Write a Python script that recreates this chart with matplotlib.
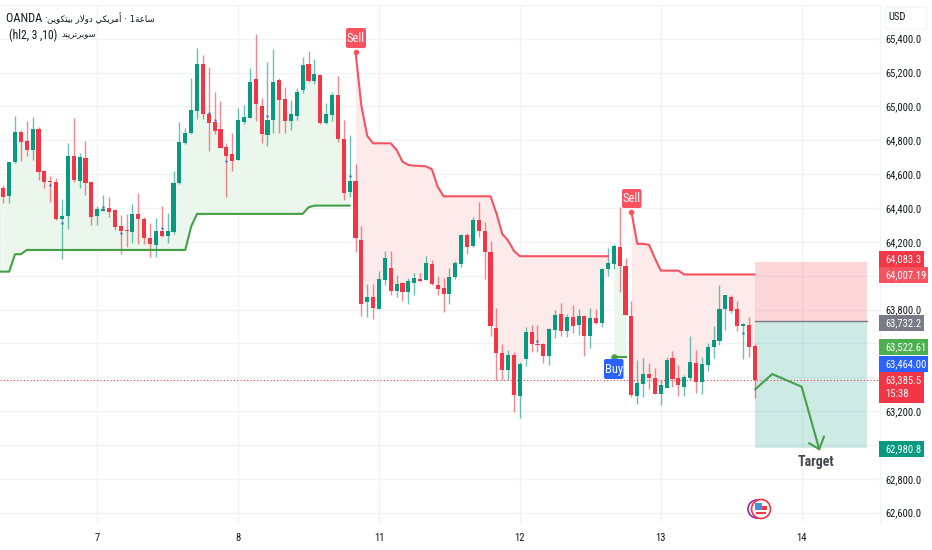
import numpy as np
import matplotlib
matplotlib.use("Agg")
import matplotlib.pyplot as plt
from matplotlib.patches import Circle, Rectangle, FancyBboxPatch

# hourly candles
opens = [64520, 64471, 64670, 64851, 64796, 64743, 64869, 64619, 64560, 64556,
         64337, 64353, 64708, 64562, 64696, 64556, 64353, 64385, 64400, 64388,
         64294, 64270, 64259, 64365, 64335, 64225, 64184, 64264, 64237, 64257,
         64546, 64782, 64841, 64973, 65251, 64956, 64910, 64867, 64759, 64719,
         64684, 64908, 64934, 65164, 65003, 64830, 64920, 65156, 65044, 64916,
         64946, 65097, 65251, 65148, 65186, 64904, 64950, 65068, 64806, 64493,
         64560, 64208, 63843, 63877, 63804, 63975, 64046, 63912, 63958, 63906,
         63956, 63983, 63975, 64070, 63942, 63928, 63889, 63993, 64070, 64243,
         64176, 64330, 64261, 64137, 63692, 63546, 63440, 63534, 63290, 63507,
         63668, 63599, 63597, 63524, 63682, 63773, 63676, 63757, 63706, 63763,
         63646, 63751, 63723, 64040, 64070, 64172, 64056, 63761, 63290, 63361,
         63418, 63394, 63302, 63337, 63511, 63394, 63345, 63394, 63485, 63369,
         63473, 63581, 63617, 63802, 63877, 63802, 63704, 63708, 63587]
highs = [64536, 64674, 64944, 64861, 64914, 64936, 64881, 64625, 64589, 64576,
         64455, 64786, 64932, 64723, 64794, 64560, 64414, 64479, 64463, 64392,
         64359, 64365, 64424, 64487, 64349, 64310, 64339, 64412, 64369, 64619,
         64908, 64871, 65168, 65344, 65304, 65231, 65088, 65032, 64786, 64841,
         64989, 65009, 65225, 65428, 65052, 65261, 65338, 65166, 65113, 65038,
         65107, 65290, 65328, 65278, 65190, 65019, 65084, 65180, 64920, 64832,
         64660, 64294, 63952, 63952, 64030, 64147, 64145, 64005, 63965, 63989,
         64015, 64015, 64117, 64093, 63999, 63985, 64044, 64088, 64247, 64255,
         64349, 64438, 64320, 64202, 63808, 63595, 63562, 63552, 63493, 63694,
         63709, 63709, 63601, 63692, 63798, 63837, 63774, 63824, 63802, 63765,
         63808, 63802, 64044, 64162, 64188, 64405, 64103, 63853, 63503, 63511,
         63483, 63453, 63385, 63522, 63554, 63471, 63414, 63644, 63562, 63517,
         63605, 63704, 63944, 63883, 63887, 63853, 63723, 63755, 63597]
lows = [64432, 64432, 64664, 64678, 64709, 64684, 64566, 64517, 64436, 64329,
        64097, 64278, 64556, 64520, 64479, 64300, 64300, 64381, 64349, 64270,
        64129, 64172, 64192, 64188, 64186, 64113, 64113, 64231, 64192, 64247,
        64542, 64778, 64837, 64924, 64924, 64739, 64835, 64753, 64463, 64619,
        64684, 64897, 64930, 64916, 64782, 64767, 64841, 64841, 64845, 64861,
        64920, 65078, 65143, 65133, 64897, 64897, 64916, 64792, 64448, 64467,
        64142, 63759, 63753, 63747, 63802, 63946, 63887, 63873, 63853, 63834,
        63887, 63965, 63975, 63944, 63887, 63786, 63832, 63979, 64054, 64129,
        64172, 64227, 63979, 63641, 63385, 63385, 63385, 63192, 63160, 63467,
        63552, 63552, 63483, 63473, 63631, 63641, 63637, 63664, 63652, 63526,
        63574, 63715, 63696, 64001, 64042, 63906, 63765, 63282, 63243, 63286,
        63331, 63302, 63235, 63337, 63345, 63290, 63290, 63385, 63306, 63302,
        63438, 63513, 63593, 63680, 63778, 63676, 63507, 63518, 63276]
closes = [64467, 64670, 64851, 64788, 64741, 64869, 64615, 64556, 64554, 64335,
          64353, 64708, 64566, 64702, 64550, 64349, 64392, 64388, 64377, 64286,
          64264, 64262, 64365, 64335, 64225, 64190, 64264, 64235, 64266, 64550,
          64788, 64845, 64979, 65251, 64956, 64904, 64857, 64755, 64708, 64678,
          64920, 64940, 65147, 65015, 64837, 64920, 65147, 65038, 64916, 64956,
          65084, 65245, 65151, 65190, 64900, 64956, 65068, 64806, 64487, 64562,
          64225, 63834, 63877, 63810, 63981, 64105, 63912, 63952, 63906, 63969,
          63987, 63971, 64074, 63948, 63922, 63889, 63993, 64076, 64243, 64168,
          64330, 64261, 64141, 63700, 63542, 63440, 63530, 63298, 63479, 63668,
          63599, 63589, 63524, 63686, 63769, 63676, 63755, 63700, 63763, 63646,
          63751, 63719, 64040, 64074, 64176, 64060, 63765, 63296, 63365, 63418,
          63394, 63302, 63355, 63501, 63390, 63355, 63400, 63489, 63373, 63477,
          63581, 63621, 63802, 63883, 63792, 63704, 63708, 63581, 63385]

# supertrend breakpoints (bar, price)
up_bars = [-1, 1, 2, 3, 4, 31, 32, 33, 51, 52, 53, 59]
up_vals = [64024, 64024, 64127, 64127, 64152, 64152, 64290, 64365, 64365, 64404, 64414, 64414]
down_bars = [60, 61, 62, 63, 66, 67, 68, 69, 70, 72, 73, 74, 75, 83, 84, 85, 86, 87, 88, 103]
down_vals = [65324, 65003, 64826, 64782, 64782, 64743, 64674, 64654, 64650, 64646,
             64629, 64526, 64469, 64469, 64369, 64247, 64207, 64146, 64115, 64115]
down2_bars = [107, 108, 109, 110, 111, 112, 115, 116, 128]
down2_vals = [64379, 64188, 64188, 64182, 64103, 64030, 64030, 64007, 64007]
buy_bars = [104, 106]
buy_vals = [63522, 63522]

# little blue dots sitting on some of the candles
dot_bars = [8, 10, 17, 20, 27, 35, 36, 38, 45, 59, 91, 126]
dot_vals = [64536, 64310, 64408, 64251, 64280, 64960, 64920, 64680, 64944, 64589, 63613, 63660]

# long/short position tool and the hand drawn path
pos_bars = [128.06, 147.1]
stop_price = 64083.3
entry_price = 63732.2
target_price = 62980.8
path_bars = [128.1, 131.0, 136.0, 139.0]
path_vals = [63329, 63419, 63344, 62975]
head_bars = [137.3, 139.0, 139.8]
head_vals = [63010, 62975, 63049]
last_price = 63385.5

price_ticks = list(range(62600, 65600, 200))
hidden_ticks = [63400, 63600, 64000]  # covered by the tags in the original
date_bars = [16, 40, 64, 88, 112, 136]
date_labels = ["7", "8", "11", "12", "13", "14"]

# price tags: text, centre y on the scale, background
tag_text = ["64,083.3", "64,007.19", "63,732.2", "63,522.61", "63,464.00", "62,980.8"]
tag_y = [259, 275, 323, 347, 364, 449]
tag_w = [45, 49, 45, 49, 49, 45]
tag_col = ["#f23645", "#f7525f", "#787b86", "#4caf50", "#2962ff", "#089981"]

# header words, Arabic in drawn order since there is no shaping here
word_bitcoin = "\ufee6\ufef3\ufeee\ufedc\ufe98\ufef4\ufe91"
word_dollar = "\ufead\ufefb\ufeed\ufea9"
word_american = "\ufef2\ufedc\ufef3\ufeae\ufee3\ufe83"
word_hour = "\ufe94\ufecb\ufe8e\ufeb3"
word_supertrend = "\ufeaa\ufee8\ufef3\ufeae\ufe97\ufeae\ufe91\ufeee\ufeb3"

UP = "#089981"
DOWN = "#f23645"
GRID = "#f2f3f5"
INK = "#131722"
TAG_SIZE = 7.7
plt.rcParams["font.family"] = ["Roboto Condensed", "IBM Plex Sans Condensed", "Liberation Sans", "DejaVu Sans"]

opens, highs, lows, closes = map(np.array, (opens, highs, lows, closes))
bars = np.arange(len(opens))
mids = (opens + closes) / 2
colors = np.where(closes >= opens, UP, DOWN)

W, H = 932, 550
fig = plt.figure(figsize=(W / 100, H / 100), dpi=100)
ax = fig.add_axes([0, (H - 523) / H, 880 / W, (523 - 5) / H])
ax.set_xlim(-0.562, 149.35)
ax.set_ylim(62539, 65599)

ax.set_yticks(price_ticks)
ax.set_yticklabels(["" if p in hidden_ticks else f"{p:,.1f}" for p in price_ticks])
ax.yaxis.tick_right()
ax.set_xticks(date_bars)
ax.set_xticklabels(date_labels)
ax.tick_params(length=0, labelsize=TAG_SIZE, labelcolor=INK)
ax.tick_params(axis="y", pad=3.6)
ax.tick_params(axis="x", pad=7)
ax.grid(True, color=GRID, lw=1)
ax.set_axisbelow(True)
for name, sp in ax.spines.items():
    sp.set_color(GRID)
ax.spines["left"].set_visible(False)
ax.spines["bottom"].set_visible(False)

# supertrend fills
x = bars[:60]
ax.fill_between(x, mids[:60], np.interp(x, up_bars, up_vals), color="#ebf6ec", lw=0, zorder=1)
ax.fill_between([-0.6, 0], [mids[0], mids[0]], [64024, 64024], color="#ebf6ec", lw=0, zorder=1)
x = bars[60:104]
ax.fill_between(x, mids[60:104], np.interp(x, down_bars, down_vals), color="#fdeaea", lw=0, zorder=1)
x = bars[104:107]
ax.fill_between(x, mids[104:107], np.interp(x, buy_bars, buy_vals), color="#ebf6ec", lw=0, zorder=1)
x = bars[107:129]
ax.fill_between(x, mids[107:129], np.interp(x, down2_bars, down2_vals), color="#fdeaea", lw=0, zorder=1)

# position tool
ax.fill_between(pos_bars, entry_price, stop_price, color=DOWN, alpha=0.2, lw=0, zorder=1.5)
ax.fill_between(pos_bars, target_price, entry_price, color=UP, alpha=0.2, lw=0, zorder=1.5)
ax.plot(pos_bars, [entry_price, entry_price], color="#787b86", lw=1, zorder=2)

ax.axhline(last_price, color=DOWN, lw=0.8, ls=(0, (1, 2)), zorder=2)

# candles
ax.vlines(bars, lows, highs, colors=colors, lw=1, alpha=0.6, zorder=3)
ax.bar(bars, np.maximum(np.abs(closes - opens), 8), bottom=np.minimum(opens, closes),
       width=0.7, color=colors, lw=0, zorder=4)
ax.scatter(dot_bars, dot_vals, s=3, color="#4a6fc4", lw=0, zorder=5)

# supertrend lines
ax.plot(up_bars, up_vals, color="#43a047", lw=1.5, zorder=5)
ax.plot(down_bars, down_vals, color="#f7525f", lw=1.5, zorder=5)
ax.plot(down2_bars, down2_vals, color="#f7525f", lw=1.5, zorder=5)
ax.plot(buy_bars, buy_vals, color="#43a047", lw=1.5, zorder=5)
ax.scatter([60, 107], [down_vals[0], down2_vals[0]], s=16, color="#f7525f", lw=0, zorder=6)
ax.scatter([104], [63522], s=22, color="#43a047", lw=0, zorder=6)

# drawn path with open arrow head
ax.plot(path_bars, path_vals, color="#43a047", lw=1.5, zorder=6)
ax.plot(head_bars, head_vals, color="#43a047", lw=1.5, zorder=6)
ax.text(138.4, 62900, "Target", ha="center", va="center", fontsize=10, fontweight="bold",
        color="#434651", zorder=7)

# overlay in plain pixels for the tags and header
ov = fig.add_axes([0, 0, 1, 1], facecolor="none")
ov.set_xlim(0, W)
ov.set_ylim(H, 0)
ov.axis("off")

for txt, yc, w, col in zip(tag_text, tag_y, tag_w, tag_col):
    ov.add_patch(Rectangle((879, yc - 8), w, 16, color=col, lw=0))
    ov.text(885, yc, txt, color="white", fontsize=TAG_SIZE, va="center", ha="left")
ov.add_patch(Rectangle((879, 372), 45, 30.5, color=DOWN, lw=0))
ov.text(885, 380, "63,385.5", color="white", fontsize=TAG_SIZE, va="center")
ov.text(885, 394, "15:38", color="white", fontsize=TAG_SIZE, va="center")

ov.add_patch(FancyBboxPatch((885, 7), 42, 22, boxstyle="round,pad=0,rounding_size=3",
                            fc="white", ec="#f4f5f6", lw=1))
ov.text(888, 17, "USD", color=INK, fontsize=TAG_SIZE, va="center")


def marker(x0, y0, w, h, label, col):
    ov.add_patch(FancyBboxPatch((x0, y0), w, h, boxstyle="round,pad=0,rounding_size=2",
                                fc=col, ec=col, lw=0, zorder=8))
    ov.text(x0 + w / 2, y0 + h / 2, label, color="white", fontsize=9, ha="center",
            va="center", zorder=9)


marker(346, 28, 20, 20, "Sell", "#f7525f")
marker(622, 189, 19.5, 19, "Sell", "#f7525f")
marker(604, 359, 19.5, 20, "Buy", "#2962ff")

# header
ov.text(6, 18, "OANDA ·", color=INK, fontsize=8.8, va="center")
ov.text(47, 18, f"{word_bitcoin} {word_dollar} {word_american} · 1{word_hour}", color=INK,
        fontsize=6.2, va="center", family="DejaVu Sans")
ov.text(9, 35, "(hl2, 3 ,10)", color=INK, fontsize=8.4, va="center")
ov.text(61, 35, word_supertrend, color=INK, fontsize=6, va="center", family="DejaVu Sans")

# flag logo
ov.add_patch(Circle((757, 509), 9, fc="white", ec="#9c27b0", lw=1.2))
ov.add_patch(Circle((761, 509), 9.5, fc="white", ec="#f23645", lw=1.2))
ov.add_patch(Rectangle((755, 503), 7, 7, color="#4a90d9", lw=0))
ov.add_patch(Rectangle((762, 506), 5, 4, color="#f23645", lw=0))
ov.add_patch(Rectangle((756, 512), 10, 2, color="#f23645", lw=0))

fig.savefig("out.png", dpi=100)
